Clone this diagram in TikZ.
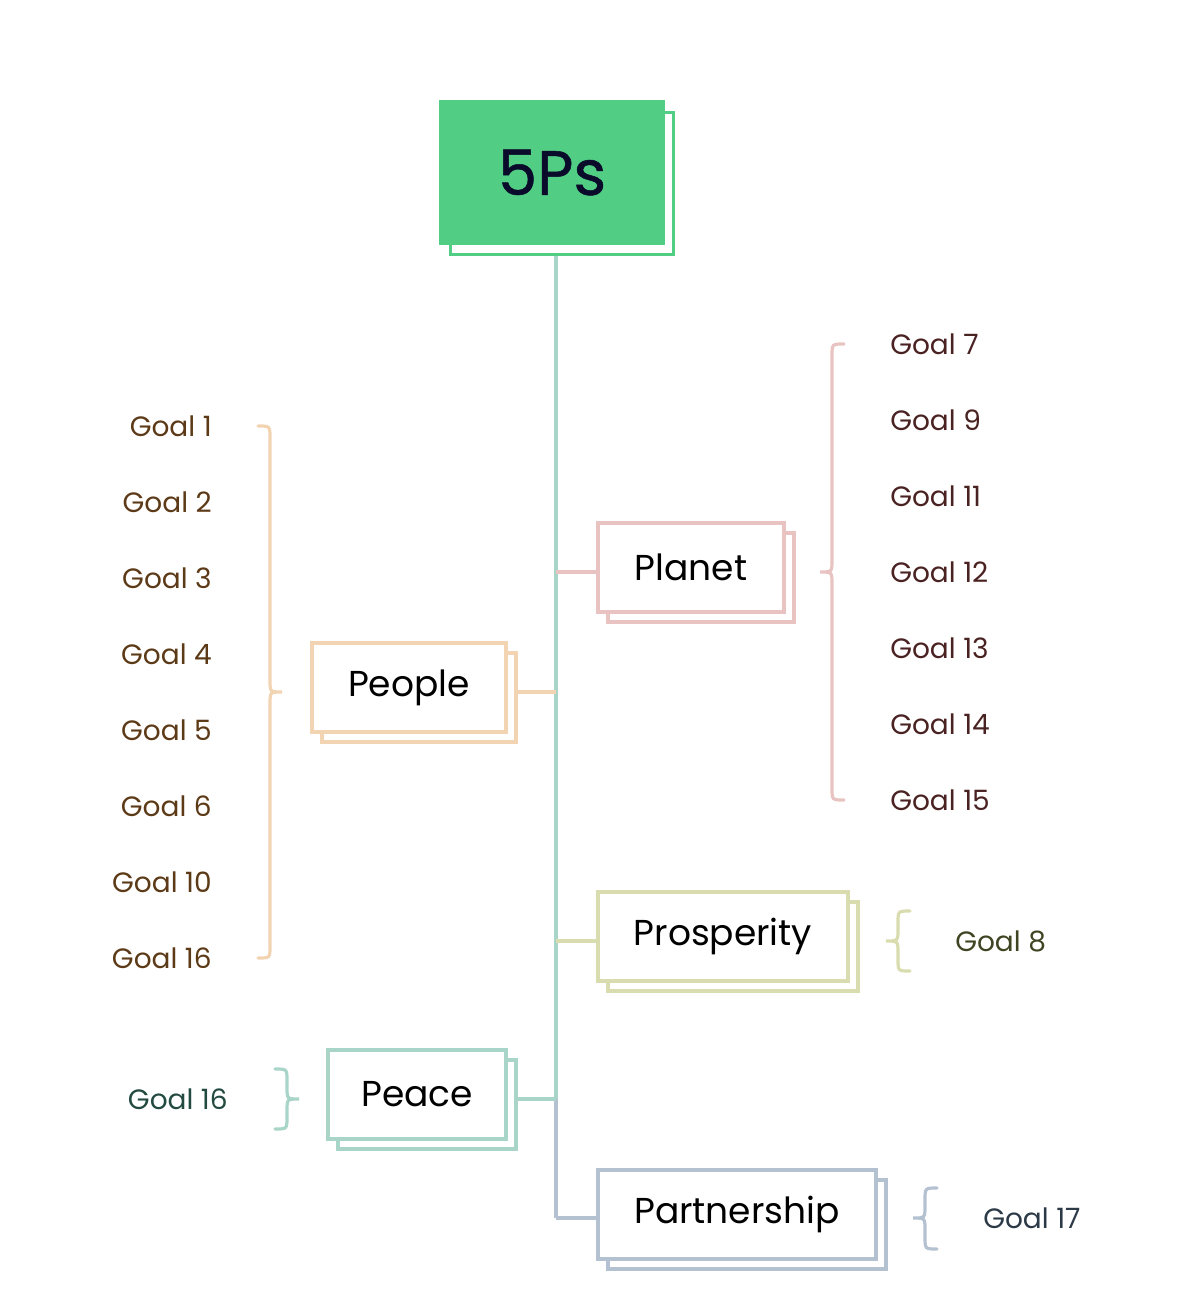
\documentclass[tikz,border=0pt]{standalone}
\usepackage{fontspec}
\setmainfont{Poppins}
\definecolor{cgreen}{HTML}{52CD84}
\definecolor{cteal}{HTML}{A8D5C8}
\definecolor{cpink}{HTML}{E8C3C1}
\definecolor{corange}{HTML}{F3D4B2}
\definecolor{colive}{HTML}{D9DCAE}
\definecolor{cblue}{HTML}{B3C1D1}
\definecolor{tbrown}{HTML}{5C3A17}
\definecolor{tred}{HTML}{4A2222}
\definecolor{tolive}{HTML}{3F4422}
\definecolor{tteal}{HTML}{234A40}
\definecolor{tslate}{HTML}{2C3A48}
\definecolor{tnavy}{HTML}{0A0A2A}
\tikzset{
  boxline/.style={line width=2.4pt},
  frontbox/.style={boxline, draw=#1, fill=white, inner sep=0pt, minimum height=66.75pt},
  backbox/.style={boxline, draw=#1, inner sep=0pt, minimum height=66.75pt},
  boxlabel/.style={font=\fontsize{27}{32}\selectfont, text=black},
  goal/.style={font=\fontsize{21}{25}\selectfont, inner sep=0pt},
  conn/.style={line width=2.4pt},
  bracel/.style={line width=2.4pt, line cap=round},
}
\begin{document}
\begin{tikzpicture}[x=0.75pt,y=-0.75pt]
\useasboundingbox (0,0) rectangle (1192,1302);
% trunk coordinates
\coordinate (j0) at (556,255);
\coordinate (jPlanet) at (556,572);
\coordinate (jPeople) at (556,692);
\coordinate (jProsp) at (556,941);
\coordinate (jPeace) at (556,1099);
\coordinate (jPart) at (556,1218);
% trunk
\draw[conn, cteal] (j0) -- (jPeace);
\draw[conn, cblue] (jPeace) -- (jPart);
% 5Ps
\node[boxline, draw=cgreen, minimum width=167.25pt, minimum height=106.5pt, inner sep=0pt] (top5back) at (562,183.5) {};
\node[fill=cgreen, minimum width=169.5pt, minimum height=108.75pt, inner sep=0pt, font=\fontsize{47}{54}\selectfont\addfontfeatures{FakeBold=0.8}, text=tnavy] (top5) at (552,172.5) {5Ps};
% Planet
\node[backbox=cpink, minimum width=139.5pt] (planetback) at (701,577.5) {};
\node[frontbox=cpink, minimum width=139.5pt, boxlabel] (planet) at (691,567.5) {Planet};
% People
\node[backbox=corange, minimum width=145.5pt] (peopleback) at (419,697.5) {};
\node[frontbox=corange, minimum width=145.5pt, boxlabel] (people) at (409,687.5) {People};
% Prosperity
\node[backbox=colive, minimum width=187.5pt] (prospback) at (733,946.5) {};
\node[frontbox=colive, minimum width=187.5pt, boxlabel] (prosp) at (723,936.5) {Prosperity};
% Peace
\node[backbox=cteal, minimum width=133.5pt] (peaceback) at (427,1104.5) {};
\node[frontbox=cteal, minimum width=133.5pt, boxlabel] (peace) at (417,1094.5) {Peace};
% Partnership
\node[backbox=cblue, minimum width=208.5pt] (partback) at (747,1224.5) {};
\node[frontbox=cblue, minimum width=208.5pt, boxlabel] (part) at (737,1214.5) {Partnership};
% branch connectors
\draw[conn, cpink] (jPlanet) -- (jPlanet -| planet.west);
\draw[conn, corange] (jPeople) -- (jPeople -| peopleback.east);
\draw[conn, colive] (jProsp) -- (jProsp -| prosp.west);
\draw[conn, cteal] (jPeace) -- (jPeace -| peaceback.east);
\draw[conn, cblue] (jPart) -- (jPart -| part.west);
% braces
\draw[bracel, corange] (258,426) .. controls (270,426) .. (270,438) -- (270,680) .. controls (270,692) .. (282,692) .. controls (270,692) .. (270,704) -- (270,946) .. controls (270,958) .. (258,958);
\draw[bracel, cteal] (275,1069) .. controls (287,1069) .. (287,1081) -- (287,1087) .. controls (287,1099) .. (299,1099) .. controls (287,1099) .. (287,1111) -- (287,1117) .. controls (287,1129) .. (275,1129);
\draw[bracel, cpink] (844,344) .. controls (832,344) .. (832,356) -- (832,560) .. controls (832,572) .. (820,572) .. controls (832,572) .. (832,584) -- (832,788) .. controls (832,800) .. (844,800);
\draw[bracel, colive] (910,911) .. controls (898,911) .. (898,923) -- (898,929) .. controls (898,941) .. (886,941) .. controls (898,941) .. (898,953) -- (898,959) .. controls (898,971) .. (910,971);
\draw[bracel, cblue] (937,1188) .. controls (925,1188) .. (925,1200) -- (925,1206) .. controls (925,1218) .. (913,1218) .. controls (925,1218) .. (925,1230) -- (925,1237) .. controls (925,1249) .. (937,1249);
% left goals
\node[goal, text=tbrown, anchor=east] (g1) at (212,426) {Goal 1};
\node[goal, text=tbrown, anchor=east] (g2) at (212,502) {Goal 2};
\node[goal, text=tbrown, anchor=east] (g3) at (212,578) {Goal 3};
\node[goal, text=tbrown, anchor=east] (g4) at (212,654) {Goal 4};
\node[goal, text=tbrown, anchor=east] (g5) at (212,730) {Goal 5};
\node[goal, text=tbrown, anchor=east] (g6) at (212,806) {Goal 6};
\node[goal, text=tbrown, anchor=east] (g10) at (212,882) {Goal 10};
\node[goal, text=tbrown, anchor=east] (g16a) at (212,958) {Goal 16};
% right goals
\node[goal, text=tred, anchor=west] (g7) at (890,344) {Goal 7};
\node[goal, text=tred, anchor=west] (g9) at (890,420) {Goal 9};
\node[goal, text=tred, anchor=west] (g11) at (890,496) {Goal 11};
\node[goal, text=tred, anchor=west] (g12) at (890,572) {Goal 12};
\node[goal, text=tred, anchor=west] (g13) at (890,648) {Goal 13};
\node[goal, text=tred, anchor=west] (g14) at (890,724) {Goal 14};
\node[goal, text=tred, anchor=west] (g15) at (890,800) {Goal 15};
% others
\node[goal, text=tolive, anchor=west] (g8) at (955,941) {Goal 8};
\node[goal, text=tteal, anchor=east] (g16b) at (228,1099) {Goal 16};
\node[goal, text=tslate, anchor=west] (g17) at (983,1218) {Goal 17};
\end{tikzpicture}
\end{document}
